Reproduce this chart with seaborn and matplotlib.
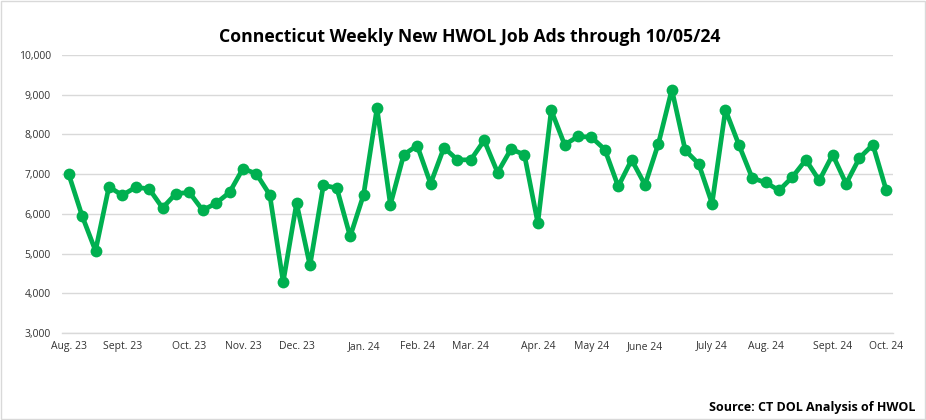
import numpy as np
import pandas as pd
import matplotlib
matplotlib.use("Agg")
import matplotlib.pyplot as plt
import seaborn as sns
from matplotlib.patches import Rectangle

# weekly new job ads, weeks ending 8/5/23 .. 10/5/24
ads = [7000, 5950, 5070, 6680, 6470, 6670, 6630, 6150, 6510, 6540,
       6090, 6270, 6540, 7140, 7010, 6480, 4280, 6270, 4700, 6720,
       6650, 5430, 6480, 8660, 6230, 7490, 7720, 6760, 7670, 7360,
       7360, 7850, 7040, 7630, 7490, 5770, 8610, 7740, 7950, 7930,
       7620, 6690, 7360, 6730, 7770, 9130, 7600, 7260, 6260, 8620,
       7740, 6900, 6790, 6590, 6930, 7360, 6840, 7490, 6760, 7410,
       7740, 6590]
week_end = pd.date_range("2023-08-05", periods=len(ads), freq="7D")

# month labels on the first week of each month
month_names = ["Aug.", "Sept.", "Oct.", "Nov.", "Dec.", "Jan.", "Feb.", "Mar.",
               "Apr.", "May", "June", "July", "Aug.", "Sept.", "Oct."]

df = pd.DataFrame({"week": np.arange(len(ads)), "ads": ads, "date": week_end})
first_weeks = df.groupby([df["date"].dt.year, df["date"].dt.month])["week"].min().values
tick_labels = [f"{m} {str(d.year)[2:]}" for m, d in zip(month_names, week_end[first_weeks])]

sns.set_theme(style="white")
plt.rcParams["font.family"] = ["Open Sans", "DejaVu Sans"]

green = "#00b050"
grid_c = "#d9d9d9"

fig = plt.figure(figsize=(9.26, 4.2), dpi=100, facecolor="white")
ax = fig.add_axes([62 / 926, 1 - 333 / 420, (893 - 62) / 926, (333 - 55) / 420])

sns.lineplot(data=df, x="week", y="ads", ax=ax, color=green, linewidth=3.4,
             marker="o", markersize=8.5, markeredgewidth=0, markeredgecolor=green)

ax.set_xlim(-0.45, len(ads) - 0.5)
ax.set_ylim(3000, 10000)
ax.set_yticks(np.arange(3000, 10001, 1000))
ax.set_yticklabels([f"{v:,}" for v in range(3000, 10001, 1000)])
ax.yaxis.grid(True, color=grid_c, linewidth=1)
ax.set_axisbelow(True)

ax.set_xticks(first_weeks)
ax.set_xticklabels(tick_labels)
ax.set_xticks(np.arange(-0.5, len(ads), 7), minor=True)
ax.tick_params(axis="x", which="major", length=0, pad=6, labelsize=7.5)
ax.tick_params(axis="x", which="minor", length=4, width=1, color=grid_c, direction="out")
ax.tick_params(axis="y", length=0, pad=8, labelsize=7.5)
for lab in ax.get_xticklabels() + ax.get_yticklabels():
    lab.set_color("#333333")

for s in ["top", "right", "left"]:
    ax.spines[s].set_visible(False)
ax.spines["bottom"].set_color(grid_c)
ax.spines["bottom"].set_linewidth(1)
ax.set_xlabel("")
ax.set_ylabel("")

fig.text(470 / 926, 1 - 37 / 420, "Connecticut Weekly New HWOL Job Ads through 10/05/24",
         ha="center", va="center", fontsize=12.7, fontweight="bold", color="black")
fig.text(915 / 926, 1 - 408 / 420, "Source: CT DOL Analysis of HWOL",
         ha="right", va="center", fontsize=9, fontweight="bold", color="black")

fig.patches.append(Rectangle((0.0015, 0.003), 0.997, 0.994, transform=fig.transFigure,
                             fill=False, edgecolor="#d9d9d9", linewidth=1))

fig.savefig("out.png", dpi=100, facecolor="white")
